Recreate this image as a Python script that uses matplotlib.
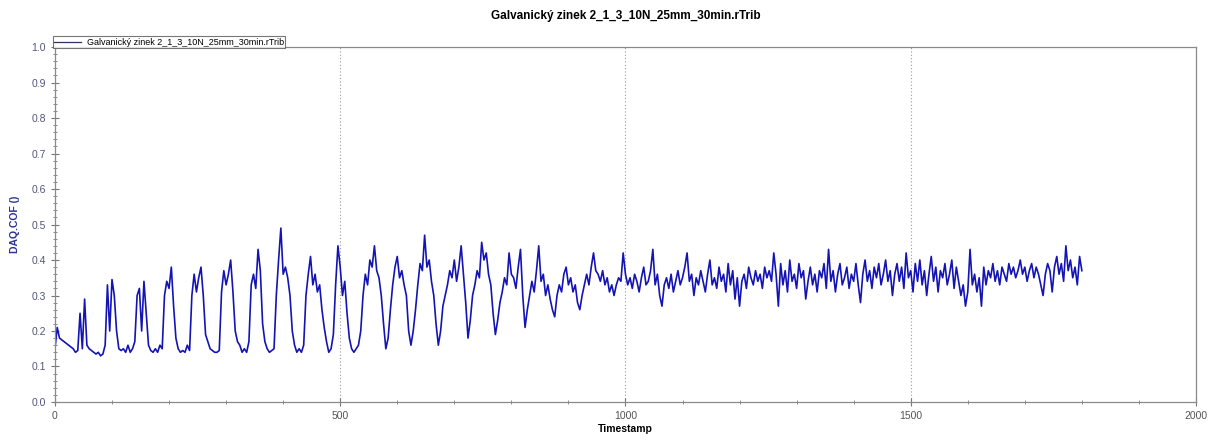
import matplotlib.pyplot as plt
import numpy as np
from matplotlib.ticker import MultipleLocator


#data, one sample every 4 s

sample_step = 4

#0 - 996 s, stick-slip cycles
cof_cycles = [
    0.15, 0.21, 0.18, 0.175, 0.17, 0.165, 0.16, 0.155, 0.15, 0.14,
    0.145, 0.25, 0.15, 0.29, 0.16, 0.15, 0.145, 0.14, 0.135, 0.14,
    0.13, 0.135, 0.16, 0.33, 0.2, 0.345, 0.3, 0.2, 0.15, 0.145,
    0.15, 0.14, 0.16, 0.14, 0.15, 0.17, 0.3, 0.32, 0.2, 0.34,
    0.25, 0.16, 0.145, 0.14, 0.15, 0.14, 0.16, 0.15, 0.3, 0.34,
    0.32, 0.38, 0.27, 0.18, 0.15, 0.14, 0.145, 0.14, 0.16, 0.145,
    0.3, 0.36, 0.31, 0.35, 0.38, 0.3, 0.19, 0.17, 0.15, 0.145,
    0.14, 0.14, 0.145, 0.31, 0.37, 0.33, 0.36, 0.4, 0.31, 0.2,
    0.17, 0.16, 0.14, 0.15, 0.14, 0.17, 0.33, 0.36, 0.32, 0.43,
    0.37, 0.22, 0.17, 0.15, 0.14, 0.145, 0.15, 0.3, 0.4, 0.49,
    0.36, 0.38, 0.35, 0.3, 0.2, 0.16, 0.14, 0.15, 0.14, 0.16,
    0.3, 0.36, 0.41, 0.33, 0.36, 0.31, 0.33, 0.26, 0.21, 0.17,
    0.14, 0.15, 0.19, 0.33, 0.44, 0.38, 0.3, 0.34, 0.25, 0.18,
    0.15, 0.14, 0.15, 0.16, 0.2, 0.3, 0.36, 0.33, 0.4, 0.38,
    0.44, 0.37, 0.35, 0.3, 0.22, 0.15, 0.18, 0.26, 0.33, 0.38,
    0.41, 0.35, 0.37, 0.33, 0.3, 0.2, 0.16, 0.2, 0.26, 0.33,
    0.39, 0.37, 0.47, 0.38, 0.4, 0.34, 0.3, 0.22, 0.16, 0.2,
    0.27, 0.3, 0.33, 0.37, 0.35, 0.4, 0.34, 0.38, 0.44, 0.36,
    0.28, 0.18, 0.23, 0.3, 0.33, 0.37, 0.35, 0.45, 0.4, 0.42,
    0.36, 0.33, 0.25, 0.19, 0.23, 0.28, 0.31, 0.35, 0.33, 0.42,
    0.36, 0.35, 0.32, 0.38, 0.43, 0.3, 0.21, 0.26, 0.3, 0.34,
    0.31, 0.37, 0.44, 0.34, 0.36, 0.3, 0.33, 0.29, 0.26, 0.24,
    0.3, 0.33, 0.31, 0.36, 0.38, 0.33, 0.35, 0.31, 0.33, 0.28,
    0.26, 0.3, 0.33, 0.36, 0.33, 0.38, 0.42, 0.37, 0.36, 0.34,
    0.37, 0.33, 0.35, 0.31, 0.33, 0.3, 0.33, 0.35, 0.34, 0.42,
]

#1000 - 1800 s, steady state
cof_steady = [
    0.36, 0.33, 0.35, 0.32, 0.36, 0.34, 0.31, 0.35, 0.38, 0.33,
    0.34, 0.37, 0.43, 0.33, 0.36, 0.3, 0.27, 0.33, 0.35, 0.32,
    0.36, 0.31, 0.34, 0.37, 0.33, 0.35, 0.38, 0.42, 0.34, 0.36,
    0.3, 0.35, 0.33, 0.37, 0.34, 0.31, 0.36, 0.4, 0.33, 0.35,
    0.32, 0.38, 0.34, 0.36, 0.31, 0.39, 0.33, 0.37, 0.29, 0.35,
    0.27, 0.34, 0.36, 0.32, 0.38, 0.35, 0.33, 0.37, 0.34, 0.36,
    0.32, 0.38, 0.35, 0.37, 0.34, 0.42, 0.36, 0.27, 0.39, 0.33,
    0.37, 0.31, 0.4, 0.34, 0.36, 0.32, 0.39, 0.35, 0.37, 0.29,
    0.34, 0.38, 0.33, 0.36, 0.31, 0.37, 0.35, 0.39, 0.32, 0.43,
    0.34, 0.37, 0.31, 0.36, 0.39, 0.33, 0.35, 0.38, 0.32, 0.36,
    0.34, 0.39, 0.33, 0.28, 0.36, 0.4, 0.34, 0.37, 0.32, 0.38,
    0.35, 0.39, 0.33, 0.36, 0.4, 0.34, 0.37, 0.3, 0.36, 0.39,
    0.34, 0.38, 0.32, 0.42, 0.35, 0.37, 0.31, 0.39, 0.34, 0.4,
    0.33, 0.37, 0.3, 0.36, 0.41, 0.34, 0.38, 0.31, 0.37, 0.35,
    0.39, 0.33, 0.36, 0.4, 0.32, 0.38, 0.34, 0.3, 0.33, 0.27,
    0.31, 0.43, 0.33, 0.36, 0.31, 0.35, 0.27, 0.38, 0.33, 0.37,
    0.35, 0.39, 0.34, 0.37, 0.33, 0.38, 0.36, 0.34, 0.39, 0.36,
    0.38, 0.35, 0.37, 0.4, 0.36, 0.38, 0.34, 0.37, 0.39, 0.35,
    0.38, 0.36, 0.33, 0.3, 0.36, 0.39, 0.37, 0.31, 0.38, 0.41,
    0.36, 0.39, 0.34, 0.44, 0.37, 0.4, 0.35, 0.38, 0.33, 0.41,
    0.37,
]

series_name = 'Galvanický zinek 2_1_3_10N_25mm_30min.rTrib'

cof = np.array(cof_cycles + cof_steady)
timestamp = np.arange(len(cof))*sample_step


#figure

plt.rcParams['font.family'] = ['Liberation Sans', 'DejaVu Sans']

fig = plt.figure(figsize=(12.21, 4.4), dpi=100)
ax = fig.add_axes([0.045, 0.0864, 0.9345, 0.8066])

ax.plot(timestamp, cof, color='#1414b4', lw=1.2, label=series_name)

ax.set_xlim(0, 2000)
ax.set_ylim(0, 1.0)

ax.xaxis.set_major_locator(MultipleLocator(500))
ax.xaxis.set_minor_locator(MultipleLocator(100))
ax.yaxis.set_major_locator(MultipleLocator(0.1))
ax.yaxis.set_minor_locator(MultipleLocator(0.02))
ax.yaxis.set_major_formatter(plt.FuncFormatter(lambda v, p: '%.1f' % v))

ax.tick_params(which='major', direction='inout', length=6, width=0.8,
               color='#777777', labelsize=7.5, labelcolor='#555555')
ax.tick_params(which='minor', direction='inout', length=3, width=0.6, color='#777777')
ax.tick_params(axis='y', labelcolor='#55557a')

for s in ax.spines.values():
    s.set_color('#8a8a8a')
    s.set_linewidth(0.9)

#vertical dotted grid only
ax.xaxis.grid(True, which='major', linestyle=(0, (1, 2)), color='#999999', lw=0.8)

ax.set_xlabel('Timestamp', fontsize=7.5, fontweight='bold', labelpad=2)
ax.set_ylabel('DAQ.COF ()', fontsize=7.5, fontweight='bold', color='#2e3192', labelpad=8)

ax.set_title(series_name, fontsize=8.5, fontweight='bold', pad=20)

leg = ax.legend(loc='lower left', bbox_to_anchor=(-0.002, 0.997), fontsize=6.5,
                frameon=True, fancybox=False, borderpad=0.15, handlelength=3,
                handletextpad=0.6, borderaxespad=0)
leg.get_frame().set_edgecolor('#555555')
leg.get_frame().set_linewidth(0.8)
leg.get_lines()[0].set_color('#303060')
leg.get_lines()[0].set_linewidth(0.9)

plt.savefig('out.png', dpi=100)
